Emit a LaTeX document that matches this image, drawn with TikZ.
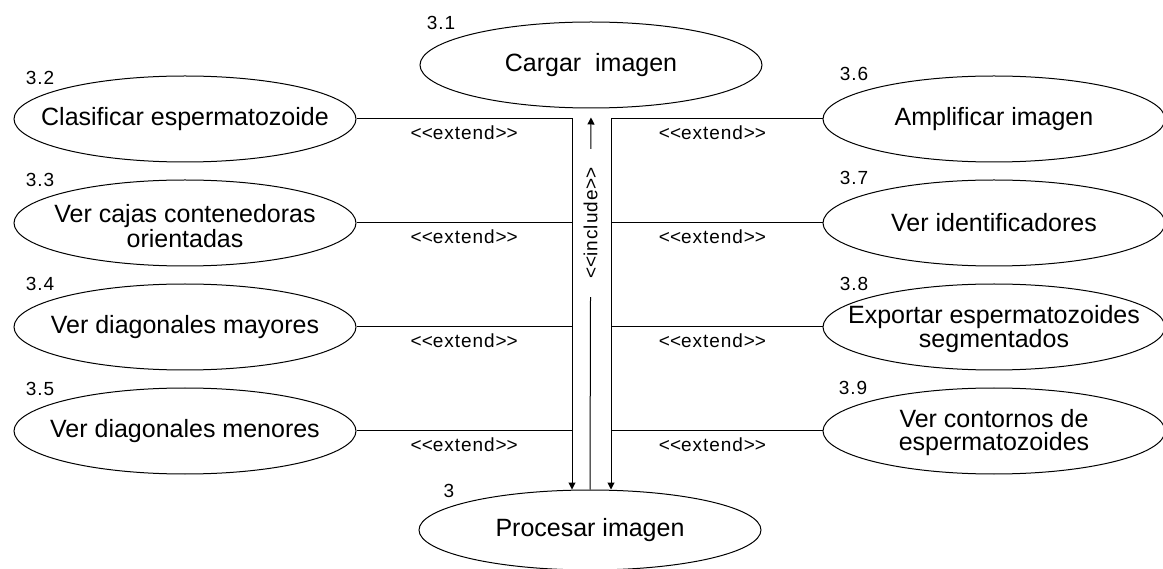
\documentclass[tikz,border=0pt]{standalone}
\usepackage{fontspec}
\setmainfont{Liberation Sans}
\newfontfamily\extfont{Liberation Sans}[LetterSpace=5]
\usetikzlibrary{shapes.geometric,arrows.meta}
\newcommand{\lt}{<\kern0pt}
\newcommand{\gt}{>\kern0pt}
\begin{document}
\begin{tikzpicture}[x=1pt,y=-1pt,
  uc/.style={ellipse, draw, line width=1pt, minimum width=342pt, minimum height=86pt, inner sep=0pt},
  uctext/.style={align=center, font=\fontsize{25}{23}\selectfont, inner sep=0pt},
  num/.style={font=\extfont\fontsize{19}{19}\selectfont, inner sep=0pt},
  ext/.style={font=\extfont\fontsize{19}{19}\selectfont, inner sep=0pt},
  arr/.style={line width=1pt, -{Triangle[length=7pt,width=7pt]}}
]
\useasboundingbox (0,0) rectangle (1163,569);
\fill[white] (0,0) rectangle (1163,569);

% use cases
\node[uc, label={[uctext]center:Cargar\ \ imagen}] (c1) at (591,65) {};
\node[uc, minimum height=80pt, label={[uctext]center:Procesar imagen}] (c) at (590,530) {};
\node[uc, label={[uctext]center:Clasificar espermatozoide}] (c2) at (185,119) {};
\node[uc, label={[uctext, yshift=-3pt]center:Ver cajas contenedoras\\orientadas}] (c3) at (185,223) {};
\node[uc, label={[uctext]center:Ver diagonales mayores}] (c4) at (185,327) {};
\node[uc, label={[uctext]center:Ver diagonales menores}] (c5) at (185,431) {};
\node[uc, label={[uctext]center:Amplificar imagen}] (c6) at (994,119) {};
\node[uc, label={[uctext]center:Ver identificadores}] (c7) at (994,223) {};
\node[uc, label={[uctext, yshift=-2pt]center:Exportar espermatozoides\\segmentados}] (c8) at (994,327) {};
\node[uc, label={[uctext, yshift=-2pt]center:Ver contornos de\\espermatozoides}] (c9) at (994,431) {};

% numbers
\node[num] (n1) at (441,23) {3.1};
\node[num] (n0) at (449,491) {3};
\node[num] (n2) at (40,78) {3.2};
\node[num] (n3) at (40,180) {3.3};
\node[num] (n4) at (40,284) {3.4};
\node[num] (n5) at (40,389) {3.5};
\node[num] (n6) at (854,74) {3.6};
\node[num] (n7) at (854,178) {3.7};
\node[num] (n8) at (854,284) {3.8};
\node[num] (n9) at (853,388) {3.9};

% junctions
\coordinate (jl2) at (572,119);
\coordinate (jl3) at (572,223);
\coordinate (jl4) at (572,327);
\coordinate (jl5) at (572,431);
\coordinate (jlb) at (c.north -| jl2);
\coordinate (jr6) at (611,119);
\coordinate (jr7) at (611,223);
\coordinate (jr8) at (611,327);
\coordinate (jr9) at (611,431);
\coordinate (jrb) at (c.north -| jr6);

% extend connectors (left)
\draw[arr] (c2.east) -- node[ext, below=6pt]{\lt\lt extend\gt\gt} (jl2) -- (jlb);
\draw[line width=1pt] (c3.east) -- node[ext, below=6pt]{\lt\lt extend\gt\gt} (jl3);
\draw[line width=1pt] (c4.east) -- node[ext, below=6pt]{\lt\lt extend\gt\gt} (jl4);
\draw[line width=1pt] (c5.east) -- node[ext, below=6pt]{\lt\lt extend\gt\gt} (jl5);
% extend connectors (right)
\draw[arr] (c6.west) -- node[ext, below=6pt, pos=0.52]{\lt\lt extend\gt\gt} (jr6) -- (jrb);
\draw[line width=1pt] (c7.west) -- node[ext, below=6pt, pos=0.52]{\lt\lt extend\gt\gt} (jr7);
\draw[line width=1pt] (c8.west) -- node[ext, below=6pt, pos=0.52]{\lt\lt extend\gt\gt} (jr8);
\draw[line width=1pt] (c9.west) -- node[ext, below=6pt, pos=0.52]{\lt\lt extend\gt\gt} (jr9);

% include
\draw[arr, shorten >=9pt] (c.north) -- node[pos=0.70, ext, fill=white, rotate=90, minimum width=148pt, minimum height=12pt]{\lt\lt include\gt\gt} (c1.south);
\end{tikzpicture}
\end{document}
